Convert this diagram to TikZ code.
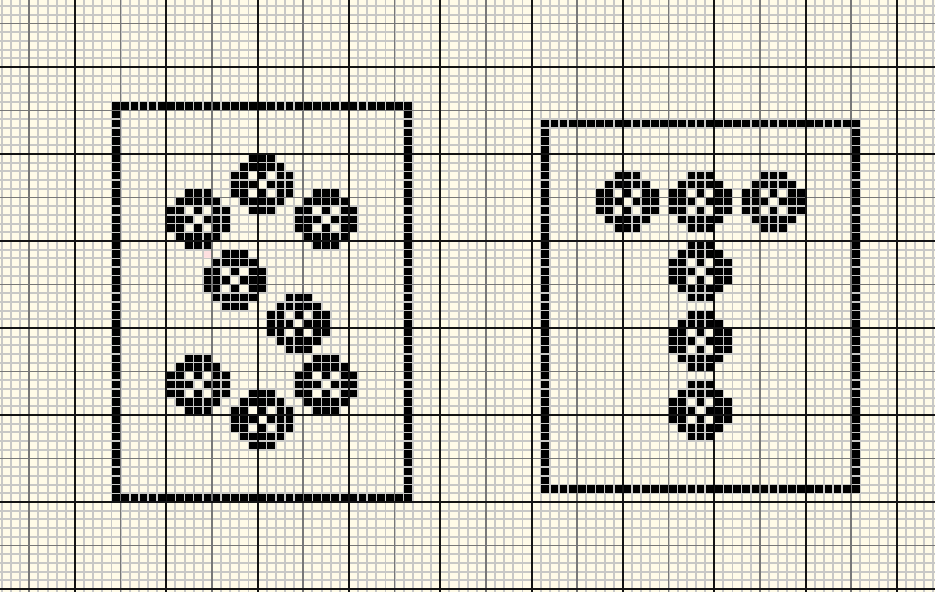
\documentclass[tikz,border=0pt]{standalone}
\definecolor{chartbg}{RGB}{255,251,232}
\definecolor{fineline}{RGB}{200,200,198}
\definecolor{midline}{RGB}{120,120,120}
\definecolor{majorline}{RGB}{20,20,20}
\tikzset{
  fine grid/.style={fineline, line width=1.5pt},
  mid grid/.style={midline, line width=1.3pt},
  major grid/.style={majorline, line width=1.7pt},
  stitchfill/.style={fill=black},
  faintfill/.style={fill=red!12}
}
% one chart cell (column, row)
\newcommand{\stitchcell}[2]{\fill[stitchfill] (#1+0.08,#2+0.08) rectangle (#1+0.92,#2+0.92);}
% round motif with a white cross, centred on a cell
\newcommand{\roundmotif}[2]{%
  \foreach \dx/\dy in {-1/-3,0/-3,1/-3,
      -2/-2,-1/-2,0/-2,1/-2,2/-2,
      -3/-1,-2/-1,0/-1,2/-1,3/-1,
      -3/0,-2/0,-1/0,1/0,2/0,3/0,
      -3/1,-2/1,0/1,2/1,3/1,
      -2/2,-1/2,0/2,1/2,2/2,
      -1/3,0/3,1/3}{\stitchcell{#1+\dx}{#2+\dy}}}
\begin{document}
\begin{tikzpicture}[x=0.25cm, y=-0.23815cm]
  \useasboundingbox (-8.21,-7.70) rectangle (94.17,60.34);
  \fill[chartbg] (-8.21,-7.70) rectangle (94.17,60.34);
  % Fine grid
  \foreach \i in {-8,...,94} \draw[fine grid] (\i,-7.70) -- (\i,60.34);
  \foreach \j in {-7,...,60} \draw[fine grid] (-8.21,\j) -- (94.17,\j);
  % Every fifth line
  \foreach \i in {-5,5,15,...,85} \draw[mid grid] (\i,-7.70) -- (\i,60.34);
  \foreach \j in {-5,5,15,...,55} \draw[mid grid] (-8.21,\j) -- (94.17,\j);
  % Every tenth line
  \foreach \i in {0,10,...,90} \draw[major grid] (\i,-7.70) -- (\i,60.34);
  \foreach \j in {0,10,...,60} \draw[major grid] (-8.21,\j) -- (94.17,\j);
  % Left frame
  \foreach \i in {4,...,36} {\stitchcell{\i}{4} \stitchcell{\i}{49}}
  \foreach \j in {5,...,48} {\stitchcell{4}{\j} \stitchcell{36}{\j}}
  % Right frame
  \foreach \i in {51,...,85} {\stitchcell{\i}{6} \stitchcell{\i}{48}}
  \foreach \j in {7,...,47} {\stitchcell{51}{\j} \stitchcell{85}{\j}}
  % Left motifs
  \foreach \c/\r in {20/13, 13/17, 27/17, 17/24, 24/29, 13/36, 27/36, 20/40}
    {\roundmotif{\c}{\r}}
  % Right motifs
  \foreach \c/\r in {60/15, 68/15, 76/15, 68/23, 68/31, 68/39}
    {\roundmotif{\c}{\r}}
  % Faint cell
  \fill[faintfill] (14.1,21.1) rectangle (14.9,21.9);
\end{tikzpicture}
\end{document}
